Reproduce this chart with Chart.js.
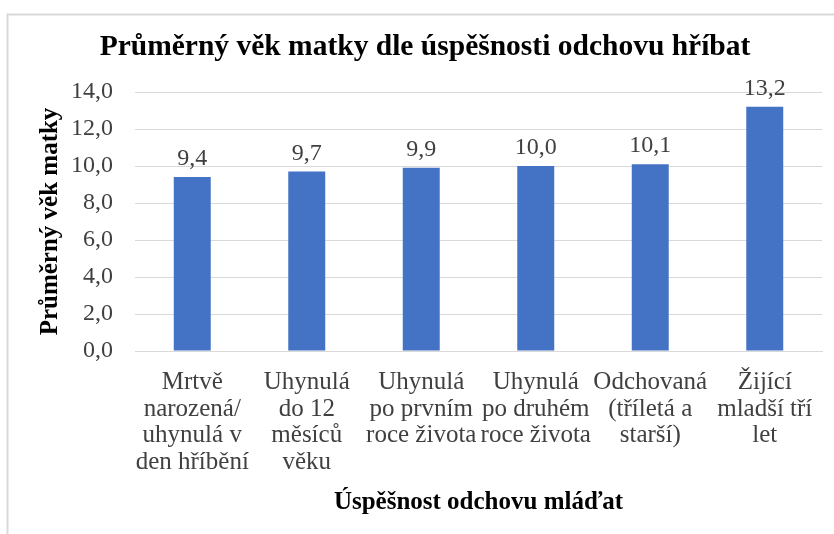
<!DOCTYPE html>
<html>
<head>
<meta charset="utf-8">
<script src="https://cdn.jsdelivr.net/npm/chart.js@4/dist/chart.umd.min.js"></script>
<style>
  html, body { margin: 0; padding: 0; background: #fff; }
  #wrap { position: relative; width: 834px; height: 534px; }
</style>
</head>
<body>
<div id="wrap"><canvas id="c" width="834" height="534"></canvas></div>
<script>
const chartTitle = "Průměrný věk matky dle úspěšnosti odchovu hříbat";
const yAxisTitle = "Průměrný věk matky";
const xAxisTitle = "Úspěšnost odchovu mláďat";
const categories = [
  ["Mrtvě", "narozená/", "uhynulá v", "den hříbění"],
  ["Uhynulá", "do 12", "měsíců", "věku"],
  ["Uhynulá", "po prvním", "roce života"],
  ["Uhynulá", "po druhém", "roce života"],
  ["Odchovaná", "(tříletá a", "starší)"],
  ["Žijící", "mladší tří", "let"]
];
const ageValues = [9.4, 9.7, 9.9, 10.0, 10.1, 13.2];
const yMin = 0, yMax = 14, yStep = 2;

const fmt = v => Number(v).toFixed(1).replace('.', ',');
const SERIF = "'Liberation Serif', 'Times New Roman', serif";

const frame = {
  id: 'frame',
  beforeDraw(chart) {
    const ctx = chart.ctx;
    ctx.save();
    ctx.fillStyle = '#fff';
    ctx.fillRect(0, 0, chart.width, chart.height);
    ctx.strokeStyle = '#d9d9d9';
    ctx.lineWidth = 2;
    ctx.beginPath();
    ctx.moveTo(7.5, 534);
    ctx.lineTo(7.5, 14.5);
    ctx.lineTo(834, 14.5);
    ctx.stroke();
    ctx.restore();
  }
};

const valueLabels = {
  id: 'valueLabels',
  afterDatasetsDraw(chart) {
    const ctx = chart.ctx;
    const meta = chart.getDatasetMeta(0);
    ctx.save();
    ctx.font = "24px " + SERIF;
    ctx.fillStyle = '#404040';
    ctx.textAlign = 'center';
    ctx.textBaseline = 'alphabetic';
    meta.data.forEach((bar, i) => {
      ctx.fillText(fmt(chart.data.datasets[0].data[i]), bar.x, bar.y - 12);
    });
    ctx.restore();
  }
};

new Chart(document.getElementById('c'), {
  type: 'bar',
  data: {
    labels: categories,
    datasets: [{
      data: ageValues,
      backgroundColor: '#4472C4',
      borderWidth: 0,
      barPercentage: 0.323,
      categoryPercentage: 1.0
    }]
  },
  options: {
    responsive: false,
    animation: false,
    devicePixelRatio: 1,
    layout: { padding: { left: 28, right: 12, top: 0, bottom: 0 } },
    plugins: {
      legend: { display: false },
      tooltip: { enabled: false },
      title: {
        display: true,
        text: chartTitle,
        color: '#000',
        font: { family: SERIF, size: 29.5, weight: 'bold', lineHeight: 1.2 },
        padding: { top: 30, bottom: 26.6 }
      }
    },
    scales: {
      x: {
        grid: { display: false, drawTicks: false },
        border: { display: true, color: '#d9d9d9', width: 1 },
        ticks: {
          color: '#404040',
          font: { family: SERIF, size: 25, lineHeight: 1.07 },
          padding: 18,
          autoSkip: false,
          maxRotation: 0,
          minRotation: 0
        },
        title: {
          display: true,
          text: xAxisTitle,
          color: '#000',
          font: { family: SERIF, size: 25, weight: 'bold', lineHeight: 1.2 },
          padding: { top: 0, bottom: 16 }
        },
        afterFit(scale) { scale.height = 183; }
      },
      y: {
        min: yMin,
        max: yMax,
        ticks: {
          stepSize: yStep,
          color: '#404040',
          font: { family: SERIF, size: 24 },
          padding: 22,
          callback: v => fmt(v)
        },
        grid: { color: '#d9d9d9', lineWidth: 1, drawTicks: false },
        border: { display: false },
        title: {
          display: true,
          text: yAxisTitle,
          color: '#000',
          font: { family: SERIF, size: 25, weight: 'bold', lineHeight: 1.2 },
          padding: { top: 8, bottom: 0 }
        },
        afterFit(scale) { scale.width = 107; }
      }
    }
  },
  plugins: [frame, valueLabels]
});
</script>
</body>
</html>
